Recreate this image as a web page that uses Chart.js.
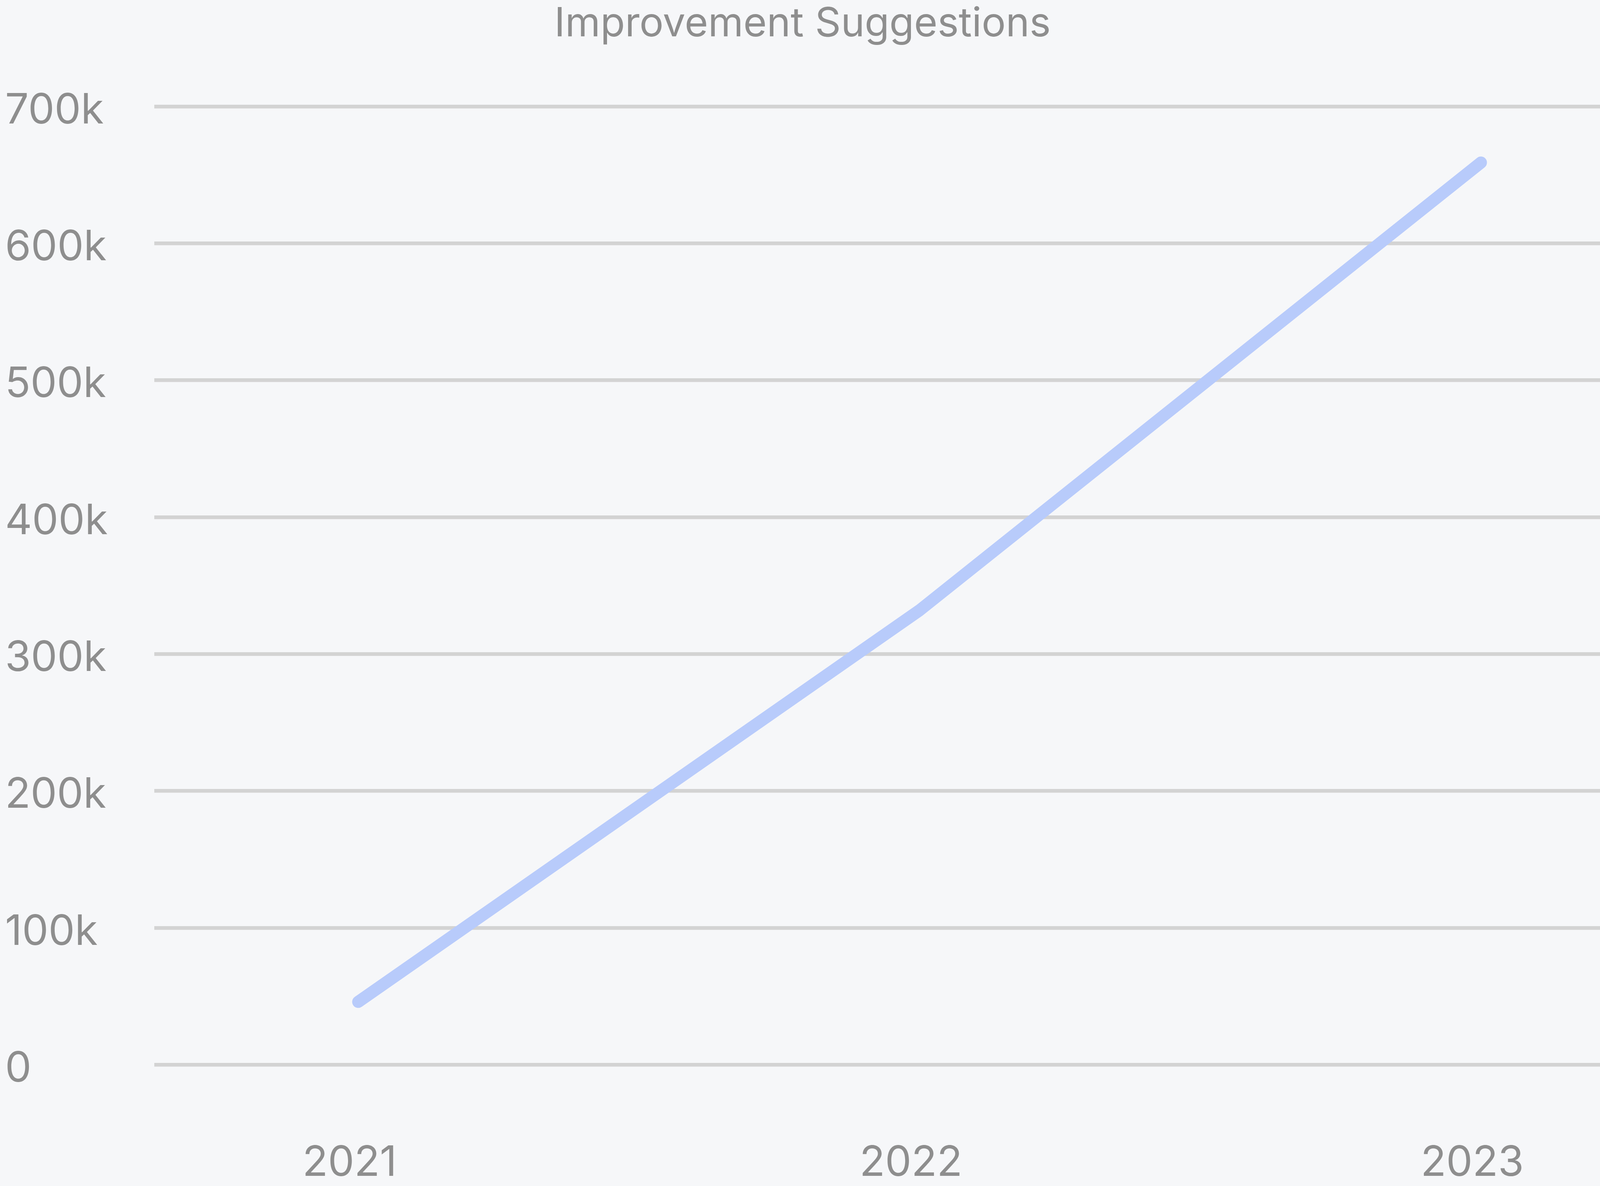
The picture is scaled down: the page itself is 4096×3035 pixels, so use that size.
<!DOCTYPE html>
<html>
<head>
<meta charset="utf-8">
<script src="https://cdn.jsdelivr.net/npm/chart.js@4"></script>
<style>
  html, body { margin: 0; padding: 0; background: #f6f7f9; }
  #wrap { width: 4096px; height: 3035px; }
</style>
</head>
<body>
<div id="wrap"><canvas id="c" width="4096" height="3035"></canvas></div>
<script>
const years = [2021, 2022, 2023];
const yearLabels = ['2021', '2022', '2023'];
const suggestions = [46000, 332000, 659000];
const yTickValues = [0, 100000, 200000, 300000, 400000, 500000, 600000, 700000];
const yTickLabels = ['0', '100k', '200k', '300k', '400k', '500k', '600k', '700k'];

const textColor = '#8e8e8e';
const fontFamily = 'Inter, "Noto Sans", sans-serif';

const points = years.map((y, i) => ({ x: y, y: suggestions[i] }));

new Chart(document.getElementById('c'), {
  type: 'line',
  data: {
    datasets: [{
      label: 'Improvement Suggestions',
      data: points,
      borderColor: '#b8cbfb',
      backgroundColor: '#b8cbfb',
      borderWidth: 31,
      borderCapStyle: 'round',
      borderJoinStyle: 'round',
      pointRadius: 0,
      tension: 0,
      fill: false
    }]
  },
  options: {
    responsive: false,
    animation: false,
    devicePixelRatio: 1,
    layout: { padding: { left: 13, right: 0, top: 0, bottom: 0 } },
    plugins: {
      legend: { display: false },
      tooltip: { enabled: false },
      title: {
        display: true,
        text: 'Improvement Suggestions',
        color: textColor,
        font: { family: fontFamily, size: 103, weight: 'normal', lineHeight: 1.12 },
        padding: { top: 4, bottom: 153 }
      }
    },
    scales: {
      x: {
        type: 'linear',
        min: 2020.6367,
        max: 2023.2122,
        grid: { display: false },
        border: { display: false },
        afterBuildTicks: (scale) => { scale.ticks = years.map(v => ({ value: v })); },
        afterFit: (scale) => { scale.height = 310; scale.paddingLeft = 0; scale.paddingRight = 0; },
        ticks: {
          autoSkip: false,
          maxRotation: 0,
          padding: 180,
          labelOffset: -22,
          color: textColor,
          font: { family: fontFamily, size: 107 },
          callback: (v) => yearLabels[years.indexOf(v)]
        }
      },
      y: {
        min: 0,
        max: 700000,
        afterBuildTicks: (scale) => { scale.ticks = yTickValues.map(v => ({ value: v })); },
        afterFit: (scale) => { scale.width = 382; },
        grid: { color: '#d3d3d3', lineWidth: 9.6, drawTicks: false },
        border: { display: false },
        ticks: {
          crossAlign: 'far',
          padding: 10,
          labelOffset: 11,
          color: textColor,
          font: { family: fontFamily, size: 107 },
          callback: (v) => yTickLabels[yTickValues.indexOf(v)]
        }
      }
    }
  }
});
</script>
</body>
</html>
